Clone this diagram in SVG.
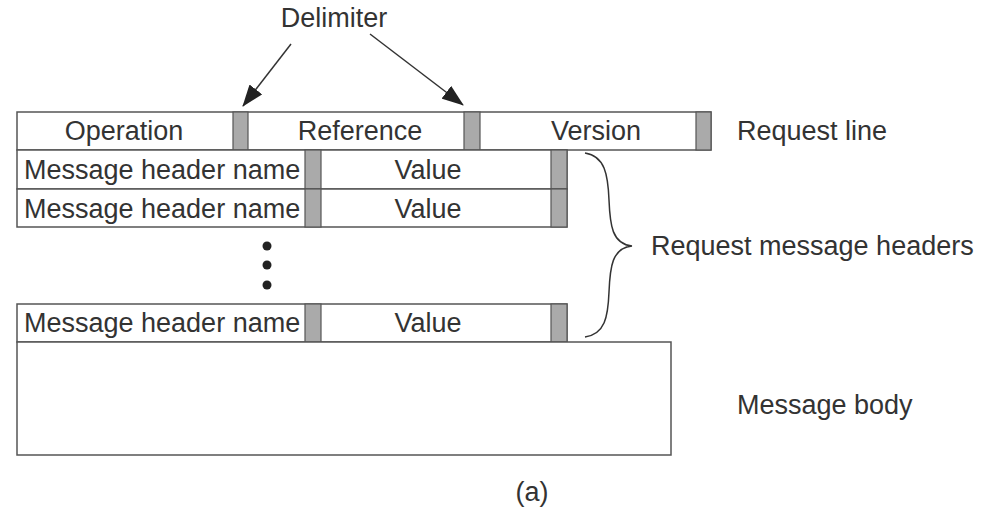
<svg xmlns="http://www.w3.org/2000/svg" width="990" height="526" viewBox="0 0 990 526">
<defs>
<style>
text{font-family:"Liberation Sans",Arial,sans-serif;font-size:27px;fill:#333}
.box{fill:#fff;stroke:#555;stroke-width:1.5}
.delim{fill:#aaa;stroke:#555;stroke-width:1.2}
.line{fill:none;stroke:#333;stroke-width:1.5}
.c{text-anchor:middle}
</style>
<marker id="ahb" viewBox="0 0 22 16" refX="21" refY="8" markerWidth="22" markerHeight="16" orient="auto" markerUnits="userSpaceOnUse">
<path d="M0,0 L22,8 L0,16 z" fill="#222"/>
</marker>
</defs>
<rect width="990" height="526" fill="#fff"/>
<g id="delimiter-label"><text class="c" x="334" y="27">Delimiter</text></g>
<g id="request-line">
<rect class="box" x="17" y="112" width="694" height="38"/>
<rect class="delim" x="233" y="112" width="15" height="38"/>
<rect class="delim" x="464" y="112" width="16" height="38"/>
<rect class="delim" x="696" y="112" width="15" height="38"/>
<text class="c" x="124" y="140">Operation</text>
<text class="c" x="360" y="140">Reference</text>
<text class="c" x="596" y="140">Version</text>
</g>
<g id="header1">
<rect class="box" x="17" y="150" width="550" height="39"/>
<rect class="delim" x="305" y="150" width="16" height="39"/>
<rect class="delim" x="551" y="150" width="16" height="39"/>
<text x="24" y="179">Message header name</text>
<text class="c" x="428" y="179">Value</text>
</g>
<g id="header2">
<rect class="box" x="17" y="189" width="550" height="38"/>
<rect class="delim" x="305" y="189" width="16" height="38"/>
<rect class="delim" x="551" y="189" width="16" height="38"/>
<text x="24" y="218">Message header name</text>
<text class="c" x="428" y="218">Value</text>
</g>
<g id="ellipsis" fill="#222">
<circle cx="267" cy="246" r="4.5"/>
<circle cx="267" cy="265" r="4.5"/>
<circle cx="267" cy="285" r="4.5"/>
</g>
<g id="header3">
<rect class="box" x="17" y="304" width="550" height="38"/>
<rect class="delim" x="305" y="304" width="16" height="38"/>
<rect class="delim" x="551" y="304" width="16" height="38"/>
<text x="24" y="332">Message header name</text>
<text class="c" x="428" y="332">Value</text>
</g>
<g id="message-body">
<rect class="box" x="17" y="342" width="654" height="113"/>
</g>
<g id="labels">
<text x="737" y="140">Request line</text>
<text x="651" y="255">Request message headers</text>
<text x="737" y="414">Message body</text>
<text class="c" x="532" y="501">(a)</text>
</g>
<g id="connectors">
<line class="line" x1="291" y1="44" x2="243" y2="106" marker-end="url(#ahb)"/>
<line class="line" x1="370" y1="34" x2="463" y2="105" marker-end="url(#ahb)"/>
<path id="brace" class="line" stroke-width="1.3" d="M585,153 C605,156 608,175 609,200 C610,225 612,244 632,246 C612,248 610,267 609,292 C608,317 605,334 585,337"/>
</g>
</svg>
